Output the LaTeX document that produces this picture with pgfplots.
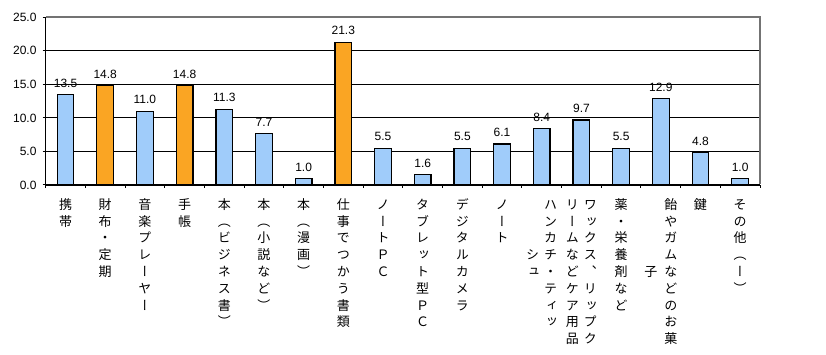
\documentclass[border=0pt]{standalone}
\usepackage{fontspec}
\setmainfont{Liberation Sans}
\newfontfamily\cjkv[RawFeature=+vert]{Noto Sans CJK JP}
\usepackage{pgfplots}
\pgfplotsset{compat=1.18}
\definecolor{barblue}{RGB}{160,204,250}
\definecolor{barorange}{RGB}{250,165,35}

\newdimen\vpitch \vpitch=16.8pt
\def\vtextend{\vtextend}
\def\vtextloop#1{\ifx#1\vtextend\else\hbox to 1em{\hss\vrule height 0.86em depth \dimexpr\vpitch-0.86em\relax width 0pt\relax #1\hss}\expandafter\vtextloop\fi}
\newcommand\vtext[1]{\vbox{\offinterlineskip\vtextloop#1\vtextend}}
\newcommand\lbl[1]{{\cjkv\fontsize{13}{13}\selectfont\vtext{#1}}}
\newcommand\lbltwo[3]{{\cjkv\fontsize{13}{13}\selectfont$\vcenter{\vtext{#2}}\hskip#3\vcenter{\vtext{#1}}$}}

\begin{document}
\begin{tikzpicture}
\begin{axis}[
  name=ax,
  at={(45.7pt,170pt)}, anchor=south west,
  scale only axis, width=714.3pt, height=167.7pt,
  xmin=-0.5, xmax=17.5, ymin=0, ymax=25,
  clip=false,
  axis x line*=bottom, axis y line*=left,
  axis line style={-, line width=1.2pt, black},
  ytick={0,5,10,15,20,25},
  ymajorgrids, grid style={black, line width=1pt},
  ytick align=outside, ytick pos=left, xtick pos=bottom,
  xtick align=inside,
  major tick length=3pt,
  tick style={black, line width=1pt},
  xtick={-0.5,0.5,...,17.5}, xticklabels={},
  extra x ticks={0,1,...,17},
  extra x tick style={major tick length=0pt},
  extra x tick labels={\lbl{携帯},\lbl{財布・定期},\lbl{音楽プレーヤー},\lbl{手帳},\lbl{本（ビジネス書）},\lbl{本（小説など）},\lbl{本（漫画）},\lbl{仕事でつかう書類},\lbl{ノートＰＣ},\lbl{タブレット型ＰＣ},\lbl{デジタルカメラ},\lbl{ノート},\lbltwo{ハンカチ・ティッ}{シュ}{5pt},\lbltwo{ワックス、リップク}{リームなどケア用品}{5pt},\lbl{薬・栄養剤など},\lbltwo{飴やガムなどのお菓}{子}{7pt},\lbl{鍵},\lbl{その他（ー）}},
  xticklabel style={anchor=north, inner sep=0pt, yshift=-13pt},
  yticklabel style={font=\fontsize{12}{12}\selectfont, inner sep=0pt, xshift=-6pt},
  /pgf/number format/assume math mode=true,
  yticklabel={\pgfmathprintnumber[fixed,zerofill,precision=1]{\tick}},
  ybar, bar width=16.7pt, bar shift=0pt,
  nodes near coords,
  nodes near coords style={font=\fontsize{12}{12}\selectfont, anchor=south, inner sep=0pt, yshift=6.5pt, /pgf/number format/.cd, fixed, zerofill, precision=1, assume math mode=true},
]
\addplot[fill=barblue, draw=black, line width=1.2pt] coordinates {
 (0,13.5) (2,11.0) (4,11.3) (5,7.7) (6,1.0) (8,5.5) (9,1.6) (10,5.5) (11,6.1) (12,8.4) (13,9.7) (14,5.5) (15,12.9) (16,4.8) (17,1.0)};
\addplot[fill=barorange, draw=black, line width=1.2pt] coordinates {
 (1,14.8) (3,14.8) (7,21.3)};
\end{axis}
\draw[draw=black!55, line width=2pt] (46.3pt,337.7pt) -- (760pt,337.7pt) -- (760pt,170.6pt);
\pgfresetboundingbox
\path[use as bounding box] (0,0) rectangle (826pt,355pt);
\end{tikzpicture}
\end{document}
